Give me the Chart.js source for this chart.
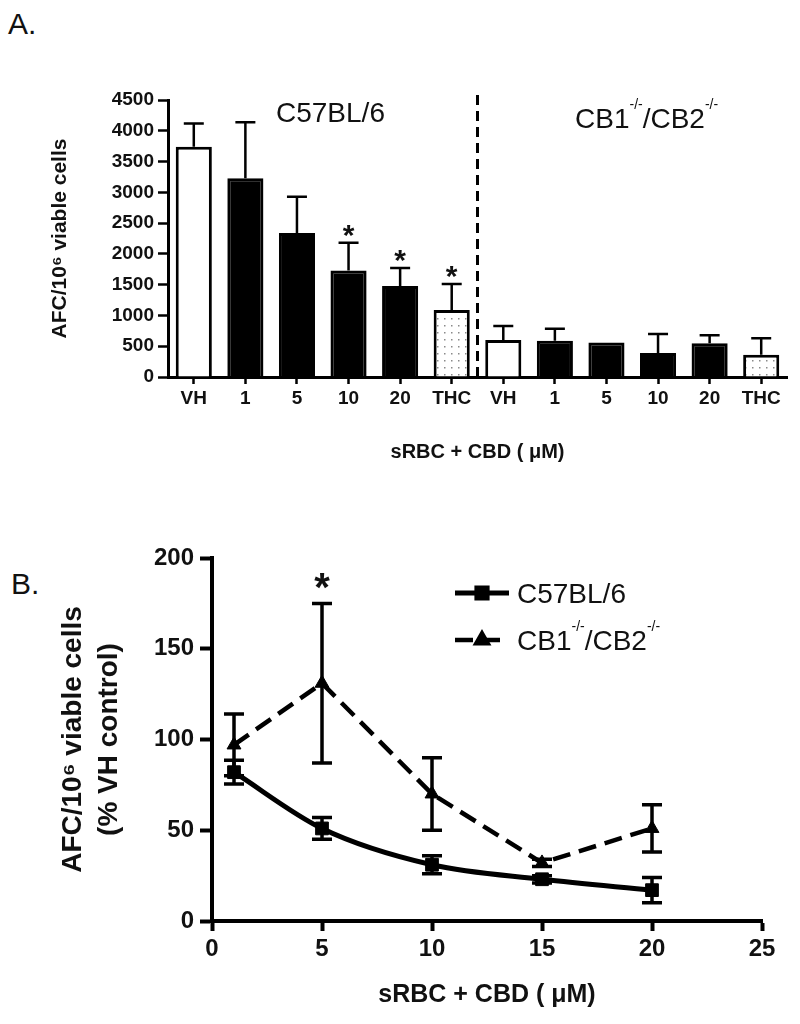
<!DOCTYPE html>
<html>
<head>
<meta charset="utf-8">
<script src="https://cdn.jsdelivr.net/npm/chart.js@4.4.1/dist/chart.umd.min.js"></script>
<style>
  body { margin: 0; background: #fff; width: 800px; height: 1024px; position: relative; overflow: hidden;
         font-family: "Liberation Sans", Arial, sans-serif; }
  .panel { position: absolute; left: 0; width: 800px; }
  #boxA { top: 0; height: 470px; }
  #boxB { top: 480px; height: 544px; }
  .tag { position: absolute; font-size: 30px; line-height: 34px; color: #111; }
</style>
</head>
<body>
<div class="tag" style="left:8px; top:7px">A.</div>
<div class="tag" style="left:11px; top:567px">B.</div>
<div class="panel" id="boxA"><canvas id="chartA"></canvas></div>
<div class="panel" id="boxB"><canvas id="chartB"></canvas></div>
<script>
// panel A: AFC per 10^6 cells, C57BL/6 then CB1-/-/CB2-/- (six groups each)
const groups = ['VH', '1', '5', '10', '20', 'THC', 'VH', '1', '5', '10', '20', 'THC'];
const afcMean = [3740, 3230, 2340, 1730, 1480, 1090, 600, 590, 560, 390, 550, 360];
const afcSem = [380, 910, 590, 450, 290, 420, 230, 195, 0, 310, 130, 270];
const afcSignificant = [false, false, false, true, true, true, false, false, false, false, false, false];

// panel B: % of VH control vs CBD dose
const cbdDose = [1, 5, 10, 15, 20];
const wtPct = [82, 51, 31, 23, 17];
const wtSem = [6.5, 6, 5, 2, 7];
const koPct = [97, 131, 70, 32, 51];
const koSem = [17, 44, 20, 2, 13];
const koSignificant = [false, true, false, false, false];

const FONT = '"Liberation Sans", Arial, sans-serif';
Chart.defaults.font.family = FONT;
Chart.defaults.color = '#111';

// draw text where some parts are superscripts, e.g. CB1-/-/CB2-/-
function drawSup(ctx, parts, x, y, size) {
  ctx.textAlign = 'left';
  ctx.textBaseline = 'alphabetic';
  for (const [txt, sup] of parts) {
    ctx.font = (sup ? Math.round(size * 0.5) : size) + 'px ' + FONT;
    ctx.fillText(txt, x, sup ? y - size * 0.68 : y);
    x += ctx.measureText(txt).width;
  }
}
const koParts = [['CB1', false], ['-/-', true], ['/CB2', false], ['-/-', true]];

function dotPattern() {
  const c = document.createElement('canvas');
  c.width = 7; c.height = 7;
  const g = c.getContext('2d');
  g.fillStyle = '#fff';
  g.fillRect(0, 0, 7, 7);
  g.fillStyle = '#8a8a8a';
  g.fillRect(3, 3, 1.5, 1.5);
  return g.createPattern(c, 'repeat');
}
const thcFill = dotPattern();

const barExtras = {
  id: 'barExtras',
  afterDatasetsDraw(chart) {
    const { ctx, scales: { x, y }, chartArea } = chart;
    const bars = chart.getDatasetMeta(0).data;
    ctx.save();
    ctx.strokeStyle = '#000';
    ctx.fillStyle = '#111';
    ctx.lineWidth = 2.5;
    bars.forEach((bar, i) => {
      if (!afcSem[i]) return;
      const top = y.getPixelForValue(afcMean[i] + afcSem[i]);
      ctx.beginPath();
      ctx.moveTo(bar.x, bar.y);
      ctx.lineTo(bar.x, top);
      ctx.moveTo(bar.x - 10, top);
      ctx.lineTo(bar.x + 10, top);
      ctx.stroke();
      if (afcSignificant[i]) {
        ctx.font = 'bold 30px ' + FONT;
        ctx.textAlign = 'center';
        ctx.textBaseline = 'alphabetic';
        ctx.fillText('*', bar.x, top + 2);
      }
    });
    // dashed split between the two strains
    const sx = (x.getPixelForValue(5) + x.getPixelForValue(6)) / 2;
    ctx.setLineDash([10, 6]);
    ctx.lineWidth = 3;
    ctx.beginPath();
    ctx.moveTo(sx, chartArea.top - 5);
    ctx.lineTo(sx, chartArea.bottom);
    ctx.stroke();
    ctx.setLineDash([]);
    drawSup(ctx, [['C57BL/6', false]], 276, 122, 28);
    drawSup(ctx, koParts, 575, 128, 28);
    ctx.restore();
  }
};

new Chart(document.getElementById('chartA'), {
  type: 'bar',
  data: {
    labels: groups,
    datasets: [{
      data: afcMean,
      backgroundColor: groups.map(g => g === 'VH' ? '#fff' : g === 'THC' ? thcFill : '#000'),
      borderColor: '#000',
      borderWidth: 3,
      barPercentage: 0.7,
      categoryPercentage: 1
    }]
  },
  options: {
    responsive: true,
    maintainAspectRatio: false,
    animation: false,
    layout: { padding: { left: 0, right: 13, top: 100, bottom: 0 } },
    plugins: { legend: { display: false }, tooltip: { enabled: false } },
    scales: {
      x: {
        afterFit(scale) { scale.height = 93; },
        border: { color: '#000', width: 3 },
        grid: { drawOnChartArea: false, offset: false, tickLength: 7, tickWidth: 2.5, color: '#000' },
        ticks: { font: { size: 19, weight: 'bold' }, padding: 3, color: '#111' },
        title: { display: true, text: 'sRBC + CBD ( μM)', font: { size: 20, weight: 'bold' }, padding: { top: 0, bottom: 6 }, color: '#111' }
      },
      y: {
        min: 0, max: 4500,
        afterFit(scale) { scale.width = 168; },
        border: { color: '#000', width: 3 },
        grid: { drawOnChartArea: false, tickLength: 10, tickWidth: 2.5, color: '#000' },
        ticks: { stepSize: 500, callback: v => String(v), font: { size: 19, weight: 'bold' }, padding: 4, color: '#111' },
        title: { display: true, text: 'AFC/10⁶ viable cells', font: { size: 21, weight: 'bold', lineHeight: 1.2 }, padding: { top: 48, bottom: 0 }, color: '#111' }
      }
    }
  },
  plugins: [barExtras]
});

const lineExtras = {
  id: 'lineExtras',
  afterDatasetsDraw(chart) {
    const { ctx, scales: { x, y } } = chart;
    ctx.save();
    ctx.strokeStyle = '#000';
    ctx.fillStyle = '#111';
    ctx.lineWidth = 3.5;
    [[wtPct, wtSem], [koPct, koSem]].forEach(([vals, sems]) => {
      cbdDose.forEach((d, i) => {
        const px = x.getPixelForValue(d);
        const hi = y.getPixelForValue(vals[i] + sems[i]);
        const lo = y.getPixelForValue(vals[i] - sems[i]);
        ctx.beginPath();
        ctx.moveTo(px, hi); ctx.lineTo(px, lo);
        ctx.moveTo(px - 10, hi); ctx.lineTo(px + 10, hi);
        ctx.moveTo(px - 10, lo); ctx.lineTo(px + 10, lo);
        ctx.stroke();
      });
    });
    cbdDose.forEach((d, i) => {
      if (!koSignificant[i]) return;
      ctx.font = 'bold 40px ' + FONT;
      ctx.textAlign = 'center';
      ctx.textBaseline = 'alphabetic';
      ctx.fillText('*', x.getPixelForValue(d), y.getPixelForValue(koPct[i] + koSem[i]) - 2);
    });
    ctx.restore();
  },
  afterDraw(chart) {
    const { ctx } = chart;
    const rows = chart.data.datasets;
    ctx.save();
    rows.forEach((ds, r) => {
      const ly = 113 + r * 47;
      ctx.strokeStyle = '#000';
      ctx.fillStyle = '#000';
      ctx.lineWidth = ds.borderWidth;
      ctx.setLineDash(ds.borderDash || []);
      ctx.beginPath();
      ctx.moveTo(455, ly);
      ctx.lineTo(509, ly);
      ctx.stroke();
      ctx.setLineDash([]);
      Chart.helpers.drawPoint(ctx, { pointStyle: ds.pointStyle, radius: ds.pointRadius * 0.8, borderWidth: 1, rotation: 0 }, 482, ly);
      ctx.fillStyle = '#111';
      drawSup(ctx, r === 0 ? [['C57BL/6', false]] : koParts, 517, ly + 10, 28);
    });
    ctx.restore();
  }
};

new Chart(document.getElementById('chartB'), {
  type: 'scatter',
  data: {
    datasets: [{
      label: 'C57BL/6',
      data: cbdDose.map((d, i) => ({ x: d, y: wtPct[i] })),
      showLine: true,
      borderColor: '#000',
      backgroundColor: '#000',
      borderWidth: 5,
      cubicInterpolationMode: 'monotone',
      pointStyle: 'rect',
      pointRadius: 9,
      pointBorderWidth: 1
    }, {
      label: 'CB1-/-/CB2-/-',
      data: cbdDose.map((d, i) => ({ x: d, y: koPct[i] })),
      showLine: true,
      borderColor: '#000',
      backgroundColor: '#000',
      borderWidth: 4.5,
      borderDash: [18, 9],
      tension: 0,
      pointStyle: 'triangle',
      pointRadius: 8,
      pointBorderWidth: 1
    }]
  },
  options: {
    responsive: true,
    maintainAspectRatio: false,
    animation: false,
    layout: { padding: { left: 0, right: 38, top: 78, bottom: 0 } },
    plugins: { legend: { display: false }, tooltip: { enabled: false } },
    scales: {
      x: {
        type: 'linear', min: 0, max: 25,
        afterFit(scale) { scale.height = 103; },
        border: { color: '#000', width: 4 },
        grid: { drawOnChartArea: false, tickLength: 10, tickWidth: 4, color: '#000' },
        ticks: { stepSize: 5, font: { size: 24, weight: 'bold' }, padding: 4, color: '#111' },
        title: { display: true, text: 'sRBC + CBD ( μM)', font: { size: 25, weight: 'bold' }, padding: { top: 0, bottom: 14 }, color: '#111' }
      },
      y: {
        min: 0, max: 200,
        afterFit(scale) { scale.width = 212; },
        border: { color: '#000', width: 4 },
        grid: { drawOnChartArea: false, tickLength: 12, tickWidth: 4, color: '#000' },
        ticks: { stepSize: 50, font: { size: 24, weight: 'bold' }, padding: 6, color: '#111' },
        title: { display: true, text: ['AFC/10⁶ viable cells', '(% VH control)'], font: { size: 28, weight: 'bold', lineHeight: 1.3 }, padding: { top: 55, bottom: 0 }, color: '#111' }
      }
    }
  },
  plugins: [lineExtras]
});
</script>
</body>
</html>
